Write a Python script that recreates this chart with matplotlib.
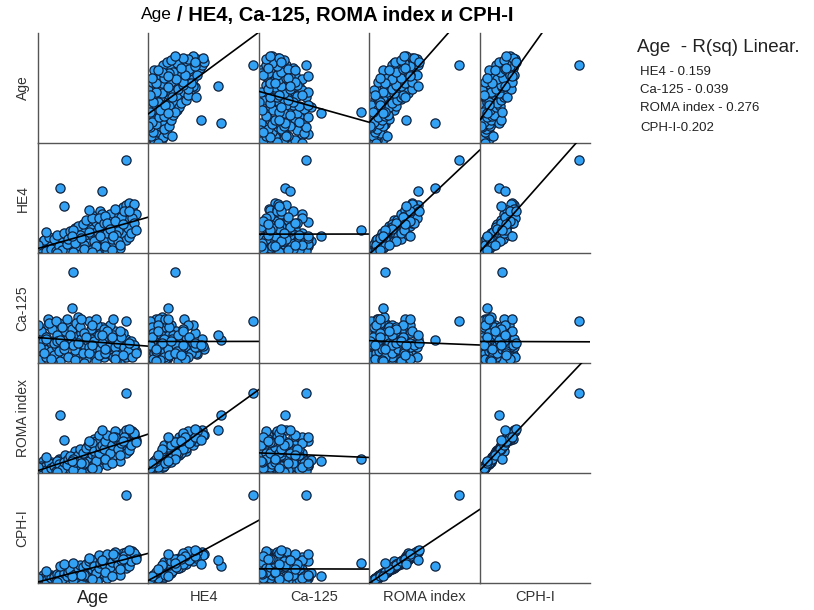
import numpy as np
import matplotlib
matplotlib.use('Agg')
import matplotlib.pyplot as plt

plt.rcParams['font.family'] = ['Liberation Sans', 'DejaVu Sans']

# values (one entry per patient)
age = [21, 22, 23, 24, 25, 26, 27, 28, 29, 30, 31, 32, 33, 34, 35, 36, 37, 38, 39, 40,
       30, 27, 35, 38, 24,
       41, 42, 43, 44, 45, 46, 47, 48, 49, 50, 51, 52, 53, 54, 55, 56, 57, 58, 59, 60,
       61, 62, 44, 48, 52, 56, 58, 60, 46, 50, 54, 42, 62, 45, 57,
       63, 64, 65, 66, 67, 68, 69, 70, 71, 72, 73, 74, 75, 76, 77, 78, 79, 80, 81, 82,
       64, 66, 68, 70, 72, 74, 76, 65, 71, 78,
       22, 23, 25, 26, 28, 29, 31, 32, 33, 34, 36, 37, 39, 40, 41, 43, 44, 26, 21, 33,
       46, 47, 49, 50, 51, 53, 55, 56, 57, 59, 60, 61, 48, 53, 55, 59, 62,
       63, 64, 66, 67, 69, 70, 71, 73, 75, 77, 79, 80, 81, 82, 63, 67, 69, 72, 74, 78,
       76, 35, 61, 37, 43, 68, 42]
he4 = [40, 70, 55, 90, 35, 120, 60, 45, 150, 80, 30, 110, 65, 180, 50, 95, 140, 75, 200, 40,
       130, 100, 160, 220, 150,
       60, 120, 85, 170, 45, 230, 100, 140, 75, 260, 190, 55, 130, 300, 210, 90, 160, 250, 70, 320,
       180, 120, 280, 35, 350, 400, 30, 440, 150, 110, 60, 200, 270, 95, 340,
       150, 230, 310, 90, 380, 200, 270, 120, 420, 330, 180, 480, 250, 500, 360, 520, 300, 460, 510, 420,
       60, 420, 140, 290, 80, 220, 160, 350, 250, 190,
       120, 80, 160, 50, 190, 70, 170, 45, 210, 95, 60, 230, 120, 170, 250, 40, 130, 240, 110, 30,
       300, 210, 320, 70, 360, 240, 380, 150, 100, 290, 200, 420, 180, 450, 40, 380, 330,
       400, 330, 270, 170, 460, 210, 150, 390, 440, 280, 230, 380, 330, 260, 100, 60, 350, 110, 320, 440,
       950, 670, 640, 490, 260, 200, 200]
ca125 = [60, 110, 30, 150, 80, 40, 200, 120, 70, 180, 50, 95, 140, 210, 20, 160, 60, 100, 130, 190,
         15, 230, 90, 170, 120,
         110, 180, 45, 140, 90, 200, 60, 160, 120, 100, 30, 150, 220, 80, 130, 50, 170, 110, 70, 140,
         190, 40, 75, 130, 120, 90, 200, 160, 240, 10, 180, 120, 60, 210, 230,
         100, 60, 140, 80, 110, 40, 170, 90, 70, 120, 30, 100, 60, 130, 45, 80, 110, 55, 95, 70,
         120, 200, 150, 20, 60, 160, 40, 90, 130, 70,
         90, 170, 60, 140, 210, 30, 110, 220, 150, 70, 190, 80, 230, 40, 150, 100, 25, 130, 200, 120,
         110, 190, 60, 160, 140, 90, 200, 120, 20, 150, 80, 110, 230, 60, 100, 50, 180,
         60, 170, 100, 130, 90, 50, 110, 140, 90, 70, 120, 40, 100, 60, 80, 140, 30, 170, 50, 110,
         220, 125, 150, 100, 465, 230, 285]
roma = [3, 6, 4, 8, 3, 10, 7, 4, 13, 9, 2, 10, 6, 16, 5, 9, 12, 7, 17, 4,
        11, 9, 15, 20, 14,
        6, 12, 8, 16, 5, 22, 10, 14, 8, 25, 18, 7, 14, 28, 21, 11, 18, 26, 10, 32,
        20, 15, 24, 4, 30, 36, 6, 38, 15, 11, 8, 18, 30, 10, 34,
        20, 26, 32, 14, 36, 24, 30, 18, 40, 34, 22, 42, 28, 45, 24, 40, 38, 36, 40, 35,
        10, 38, 19, 30, 14, 26, 22, 33, 28, 25,
        6, 9, 8, 5, 12, 7, 9, 4, 14, 11, 6, 13, 10, 16, 19, 5, 13, 18, 8, 3,
        20, 26, 22, 12, 27, 30, 32, 24, 14, 22, 28, 30, 12, 34, 7, 40, 26,
        34, 40, 22, 30, 44, 36, 26, 32, 38, 33, 30, 44, 42, 33, 16, 12, 38, 20, 34, 46,
        82, 60, 45, 35, 16, 38, 14]
cph = [0.2, 0.4, 0.3, 0.6, 0.2, 0.7, 0.5, 0.3, 0.9, 0.6, 0.1, 0.8, 0.4, 1.1, 0.3, 0.7, 0.9, 0.5, 1.2, 0.2,
       0.8, 0.6, 1.0, 1.4, 0.9,
       0.4, 0.8, 0.6, 1.1, 0.3, 1.5, 0.7, 1.0, 0.5, 1.7, 1.3, 0.4, 1.0, 1.9, 1.5, 0.7, 1.2, 1.8, 0.6, 2.2,
       1.4, 1.0, 1.6, 0.2, 2.0, 2.4, 0.3, 2.6, 1.1, 0.8, 0.5, 1.3, 2.1, 0.7, 2.3,
       1.4, 1.8, 2.2, 1.0, 2.5, 1.7, 2.1, 1.2, 2.8, 2.4, 1.6, 3.1, 2.0, 3.2, 2.3, 3.0, 2.6, 3.1, 2.9, 2.8,
       0.6, 2.7, 1.3, 2.2, 0.9, 1.9, 1.6, 2.3, 2.0, 1.8,
       0.4, 0.5, 0.6, 0.4, 0.8, 0.6, 0.7, 0.3, 1.0, 0.9, 0.5, 1.1, 0.8, 1.2, 1.4, 0.4, 1.0, 1.3, 0.6, 0.2,
       1.6, 1.9, 1.7, 0.9, 2.0, 2.3, 2.4, 1.8, 1.1, 1.6, 2.1, 2.3, 0.9, 2.6, 0.5, 2.9, 2.0,
       2.6, 3.0, 1.7, 2.2, 3.2, 2.7, 1.9, 2.4, 2.8, 2.5, 2.3, 3.3, 3.1, 2.5, 1.2, 0.8, 2.8, 1.5, 2.5, 3.4,
       9.0, 1.8, 2.4, 2.0, 2.1, 3.0, 0.8]

names = ['Age', 'HE4', 'Ca-125', 'ROMA index', 'CPH-I']
row_labels = ['Age', 'HE4', 'Ca-125', 'ROMA index', 'CPH-I']
lo = [21, 30, 10, 2, 0.1]
hi = [90, 1000, 500, 100, 10]
r2_labels = ['HE4 - 0.159', 'Ca-125 - 0.039', 'ROMA index - 0.276', 'CPH-I-0.202']

data = [np.array(age, float), np.array(he4, float), np.array(ca125, float),
        np.array(roma, float), np.array(cph, float)]

W, H = 814, 610
fig = plt.figure(figsize=(W / 100, H / 100), dpi=100)

x0, y0 = 38, 33       # top-left of the grid, px
cw, ch = 110.4, 110   # cell size, px
n = len(names)
grid_col = '#555555'

for i in range(n):      # row -> y variable
    for j in range(n):  # col -> x variable
        left = (x0 + j * cw) / W
        bottom = 1 - (y0 + (i + 1) * ch) / H
        ax = fig.add_axes([left, bottom, cw / W, ch / H])
        ax.set_xticks([])
        ax.set_yticks([])
        for s in ['top', 'right']:
            ax.spines[s].set_visible(False)
        for s in ['left', 'bottom']:
            ax.spines[s].set_color(grid_col)
            ax.spines[s].set_linewidth(1.0)
        ax.set_xlim(lo[j], hi[j])
        ax.set_ylim(lo[i], lo[i] + 1.12 * (hi[i] - lo[i]))
        ax.patch.set_alpha(0)
        if i != j:
            x, y = data[j], data[i]
            ax.scatter(x, y, s=44, facecolor='#33a2f4', edgecolor='#10223d',
                       linewidth=0.9, zorder=2)
            k, b = np.polyfit(x, y, 1)
            xs = np.array([lo[j], hi[j]])
            ax.plot(xs, k * xs + b, color='black', lw=1.2, zorder=3)
        if j == 0:
            ax.set_ylabel(row_labels[i], fontsize=10, color='#333333', labelpad=6)
        if i == n - 1:
            ax.set_xlabel(names[j], fontsize=13 if j == 0 else 10.5,
                          color='#222222' if j == 0 else '#333333', labelpad=5)

# title: "Age" regular, the rest bold, centred over the grid
t1 = fig.text(0, 1 - 14 / H, 'Age', fontsize=12.5, ha='left', va='center')
t2 = fig.text(0, 1 - 15 / H, '/ HE4, Ca-125, ROMA index и CPH-I', fontsize=14.5,
              fontweight='bold', ha='left', va='center')
fig.canvas.draw()
w1 = t1.get_window_extent().width
w2 = t2.get_window_extent().width
start = 327 - (w1 + 5 + w2) / 2
t1.set_x(start / W)
t2.set_x((start + w1 + 5) / W)

# R squared notes
fig.text(637 / W, 1 - 47 / H, 'Age  - R(sq) Linear.', fontsize=13.5, color='#222222',
         ha='left', va='center')
ys = [72, 90, 108, 128]
for lbl, yy in zip(r2_labels, ys):
    fig.text(640 / W, 1 - yy / H, lbl, fontsize=9.5, color='#222222', ha='left', va='center')

fig.savefig('out.png', dpi=100)
